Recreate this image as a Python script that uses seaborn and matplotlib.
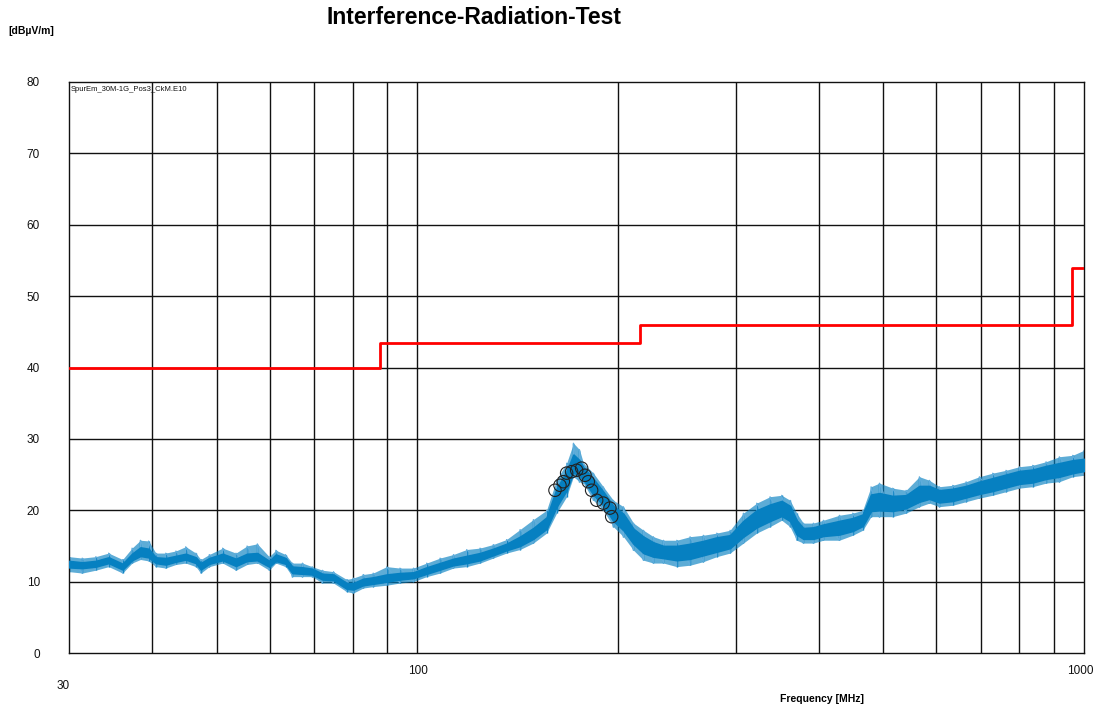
import numpy as np
import pandas as pd
import matplotlib
matplotlib.use("Agg")
import matplotlib.pyplot as plt
from matplotlib.transforms import ScaledTranslation
import seaborn as sns

# Measured emission trace: frequency nodes with the outer (spike) envelope
# and the dense core band of the receiver sweep, in dBuV/m.
freq_mhz = [30.0, 31.4, 32.9, 34.4, 36.1, 37.3, 38.4, 39.5, 40.5, 41.9,
            43.4, 44.9, 46.5, 47.3, 48.7, 51.0, 53.4, 55.5, 57.5, 59.9,
            61.3, 63.4, 64.9, 67.2, 69.5, 72.0, 74.8, 78.3, 80.1, 82.9,
            85.8, 89.9, 94.1, 98.6, 103.2, 108.1, 113.2, 118.5, 124.1, 129.9,
            136.0, 142.5, 149.2, 156.2, 161.7, 167.4, 171.4, 175.0, 177.4, 183.6,
            190.0, 196.7, 203.7, 210.9, 218.3, 225.9, 233.9, 244.9, 256.4, 268.5,
            281.2, 294.4, 308.3, 322.8, 338.0, 351.9, 362.2, 370.6, 379.2, 392.6,
            406.4, 429.5, 449.8, 465.6, 479.2, 493.2, 516.4, 540.8, 566.2, 586.1,
            606.7, 635.3, 665.3, 696.6, 729.5, 763.8, 799.8, 837.5, 877.0, 918.3,
            961.6, 1000.0]
env_lo = [11.4, 11.2, 11.6, 12.1, 11.2, 12.6, 13.1, 12.9, 12.1, 11.9,
          12.4, 12.6, 12.1, 11.2, 12.1, 12.6, 11.6, 12.4, 12.6, 11.6,
          12.6, 12.1, 10.7, 10.7, 10.7, 9.8, 9.8, 8.6, 8.4, 9.1,
          9.3, 9.5, 9.8, 10.0, 10.7, 11.2, 11.9, 12.1, 12.6, 13.3,
          14.0, 14.5, 15.4, 16.8, 19.6, 21.9, 24.7, 24.0, 23.8, 21.4,
          20.0, 17.7, 16.3, 14.4, 13.0, 12.6, 12.6, 12.1, 12.3, 12.8,
          13.5, 14.0, 15.4, 16.8, 17.7, 18.6, 17.7, 15.8, 15.4, 15.4,
          15.8, 15.8, 16.5, 17.2, 19.1, 19.1, 19.1, 19.6, 20.5, 21.0,
          20.5, 20.7, 21.2, 21.7, 22.1, 22.6, 23.1, 23.3, 23.8, 24.0,
          24.7, 24.9]
env_hi = [13.5, 13.3, 13.5, 14.0, 13.1, 14.7, 15.8, 15.7, 14.0, 14.0,
          14.3, 14.9, 14.0, 13.1, 13.8, 14.7, 14.0, 15.0, 15.3, 13.5,
          14.4, 13.8, 12.6, 12.6, 12.1, 11.6, 11.4, 10.3, 10.5, 11.0,
          11.2, 12.1, 11.9, 11.9, 12.6, 13.3, 13.8, 14.5, 14.7, 15.2,
          15.9, 17.3, 18.7, 20.0, 24.3, 26.6, 29.4, 28.5, 26.6, 25.2,
          23.3, 21.4, 20.5, 18.2, 17.2, 16.3, 15.8, 15.8, 16.3, 16.5,
          16.8, 17.2, 19.6, 21.0, 21.9, 22.1, 21.4, 19.6, 18.2, 18.2,
          18.6, 19.3, 19.6, 20.0, 23.3, 23.8, 23.1, 22.8, 24.7, 24.2,
          23.3, 23.5, 24.0, 24.7, 25.2, 25.6, 26.1, 26.3, 26.8, 27.5,
          27.7, 28.4]
core_lo = [12.0, 11.9, 12.1, 12.6, 11.7, 13.0, 13.6, 13.4, 12.6, 12.4,
           12.8, 13.1, 12.6, 11.7, 12.5, 13.0, 12.2, 12.9, 13.0, 12.1,
           12.9, 12.5, 11.2, 11.1, 11.0, 10.3, 10.2, 9.0, 8.9, 9.5,
           9.7, 10.0, 10.3, 10.5, 11.1, 11.7, 12.3, 12.6, 13.0, 13.7,
           14.4, 15.0, 16.0, 17.4, 20.5, 22.8, 25.3, 24.8, 24.3, 22.2,
           20.7, 18.5, 17.2, 15.3, 14.0, 13.5, 13.3, 13.0, 13.2, 13.7,
           14.2, 14.7, 16.3, 17.6, 18.5, 19.2, 18.5, 16.6, 16.0, 16.0,
           16.4, 16.6, 17.1, 17.8, 19.9, 20.0, 19.9, 20.3, 21.2, 21.6,
           21.1, 21.3, 21.8, 22.3, 22.7, 23.2, 23.7, 23.9, 24.4, 24.7,
           25.2, 25.5]
core_hi = [12.9, 12.7, 12.9, 13.4, 12.5, 13.9, 14.8, 14.6, 13.4, 13.3,
           13.6, 13.9, 13.4, 12.6, 13.3, 13.9, 13.2, 13.9, 14.0, 12.9,
           13.8, 13.3, 12.1, 12.0, 11.8, 11.1, 11.0, 9.8, 9.8, 10.4,
           10.6, 11.0, 11.2, 11.3, 12.0, 12.6, 13.2, 13.6, 14.0, 14.6,
           15.3, 16.3, 17.5, 19.0, 23.0, 25.5, 27.8, 27.0, 26.0, 24.4,
           22.6, 20.6, 19.5, 17.4, 16.3, 15.5, 15.0, 15.0, 15.3, 15.7,
           16.2, 16.5, 18.5, 20.0, 20.8, 21.3, 20.6, 18.6, 17.5, 17.6,
           18.0, 18.5, 18.9, 19.4, 22.2, 22.4, 22.0, 22.1, 23.4, 23.4,
           22.8, 23.0, 23.4, 24.0, 24.5, 25.0, 25.5, 25.7, 26.2, 26.6,
           27.0, 27.2]

# Final measurement points (quasi-peak) around the resonance
qp_freq_mhz = [160.8, 163.6, 165.5, 167.4, 170.3, 173.3, 176.3, 178.4,
               180.4, 182.5, 185.7, 190.0, 194.4, 195.6]
qp_level = [22.8, 23.5, 24.0, 25.2, 25.4, 25.6, 25.9, 24.9,
            24.0, 22.8, 21.4, 21.0, 20.3, 19.1]

# Limit line (step function)
limit_freq_mhz = [30, 88, 216, 960, 1000]
limit_level = [40.0, 43.5, 46.0, 54.0, 54.0]

y_ticks = [0, 10, 20, 30, 40, 50, 60, 70, 80]
x_tick_values = [30, 100, 1000]
x_tick_labels = ["30", "100", "1000"]
x_grid = [40, 50, 60, 70, 80, 90, 100, 200, 300, 400, 500, 600, 700, 800, 900]

sns.set_theme(style="white")
plt.rcParams["font.family"] = ["Liberation Sans", "DejaVu Sans"]

fig = plt.figure(figsize=(11.04, 7.09), dpi=100)
ax = fig.add_axes([69 / 1104, 56 / 709, 1015 / 1104, 571 / 709])
ax.set_xscale("log")
ax.set_xlim(30, 1000)
ax.set_ylim(0, 80)

# grid
for yv in y_ticks[1:-1]:
    ax.axhline(yv, color="#111111", lw=1.0, zorder=1)
for xv in x_grid:
    ax.axvline(xv, color="#111111", lw=1.0, zorder=1)

trace = pd.DataFrame({"freq": freq_mhz, "env_lo": env_lo, "env_hi": env_hi,
                      "core_lo": core_lo, "core_hi": core_hi})

blue = "#0680C1"
light_blue = "#62AEDD"

# spike envelope: translucent fill, a vertical stroke per node and a
# sawtooth running up each stroke and down to the next node's minimum
ax.fill_between(trace["freq"], trace["env_lo"], trace["env_hi"],
                color=blue, alpha=0.65, lw=0, zorder=2)
ax.vlines(trace["freq"], trace["env_lo"], trace["env_hi"],
          color=blue, lw=1.0, zorder=2)
saw = pd.DataFrame({
    "freq": np.repeat(trace["freq"].to_numpy(), 2),
    "level": np.column_stack([trace["env_lo"], trace["env_hi"]]).ravel(),
})
sns.lineplot(data=saw, x="freq", y="level", color=light_blue, lw=0.8,
             estimator=None, sort=False, ax=ax, zorder=2)

# dense core of the sweep
ax.fill_between(trace["freq"], trace["core_lo"], trace["core_hi"],
                color=blue, lw=1.2, edgecolor=blue, zorder=3)

# limit line
limit = pd.DataFrame({"freq": limit_freq_mhz, "level": limit_level})
sns.lineplot(data=limit, x="freq", y="level", color="#FF0000", lw=2.0,
             drawstyle="steps-post", estimator=None, sort=False, ax=ax, zorder=4)

# quasi-peak markers
qp = pd.DataFrame({"freq": qp_freq_mhz, "level": qp_level})
sns.scatterplot(data=qp, x="freq", y="level", marker="o", s=80,
                facecolor="none", edgecolor="#222222", linewidth=0.8,
                ax=ax, zorder=5)

for sp in ax.spines.values():
    sp.set_visible(True)
    sp.set_color("#111111")
    sp.set_linewidth(1.0)

ax.set_yticks(y_ticks)
ax.set_yticklabels([str(v) for v in y_ticks], fontsize=8.5, color="#111111")
ax.set_xticks(x_tick_values)
ax.set_xticklabels(x_tick_labels, fontsize=8.5, color="#111111")
ax.xaxis.set_minor_locator(matplotlib.ticker.NullLocator())
ax.tick_params(axis="y", length=0, pad=21)
ax.tick_params(axis="x", length=0, pad=8.6)
xlabels = ax.get_xticklabels()
xlabels[0].set_transform(xlabels[0].get_transform()
                         + ScaledTranslation(-0.06, -0.15, fig.dpi_scale_trans))
xlabels[2].set_transform(xlabels[2].get_transform()
                         + ScaledTranslation(-0.04, 0.0, fig.dpi_scale_trans))
ax.set_xlabel("")
ax.set_ylabel("")

ax.text(0.002, 0.993, "SpurEm_30M-1G_Pos3_CkM.E10", transform=ax.transAxes,
        fontsize=5.5, ha="left", va="top", color="#111111")

fig.text(474 / 1104, 1 - 18 / 709, "Interference-Radiation-Test",
         fontsize=16.5, fontweight="bold", ha="center", va="center", color="#000000")
fig.text(8 / 1104, 1 - 31 / 709, "[dBµV/m]", fontsize=7.5, fontweight="bold",
         ha="left", va="center", color="#000000")
fig.text(780 / 1104, 1 - 699 / 709, "Frequency [MHz]", fontsize=7.5,
         fontweight="bold", ha="left", va="center", color="#000000")

fig.savefig("out.png", dpi=100, facecolor="white")
